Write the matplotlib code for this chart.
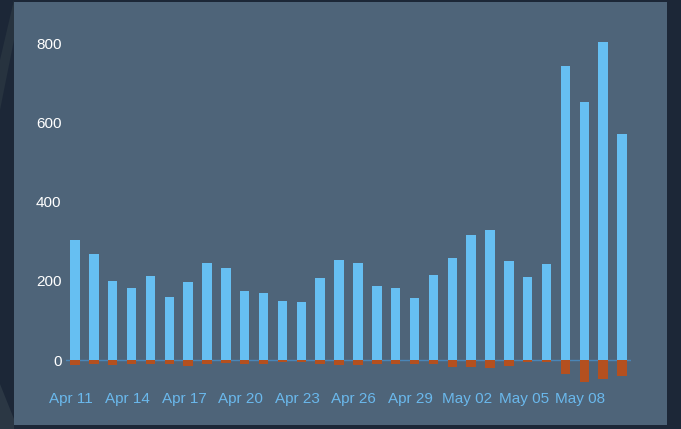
import matplotlib.pyplot as plt
import matplotlib.transforms as mtransforms
from matplotlib.patches import Rectangle, Polygon

# daily counts, Apr 11 .. May 10
dates = ["Apr 11", "Apr 12", "Apr 13", "Apr 14", "Apr 15", "Apr 16", "Apr 17", "Apr 18",
         "Apr 19", "Apr 20", "Apr 21", "Apr 22", "Apr 23", "Apr 24", "Apr 25", "Apr 26",
         "Apr 27", "Apr 28", "Apr 29", "Apr 30", "May 01", "May 02", "May 03", "May 04",
         "May 05", "May 06", "May 07", "May 08", "May 09", "May 10"]
positive = [304, 268, 200, 182, 211, 159, 197, 245, 233, 175, 169, 150, 147, 208, 252,
            246, 187, 182, 157, 215, 258, 316, 329, 251, 210, 242, 742, 651, 802, 570]
negative = [-13, -11, -12, -9, -9, -9, -15, -11, -7, -9, -9, -6, -6, -10, -13,
            -12, -9, -10, -9, -9, -17, -18, -20, -15, -5, -6, -35, -55, -48, -40]
yticks = [0, 200, 400, 600, 800]

OUTER = "#1c2737"
PANEL = "#4e6479"
BLUE = "#66bff2"
RED = "#b4501f"

W, H = 681, 429
fig = plt.figure(figsize=(W / 100, H / 100), dpi=100, facecolor=OUTER)

# decoration in the dark margin
fig.patches.append(Polygon([(0, 1 - 60 / H), (14 / W, 1.0), (14 / W, 1 - 40 / H), (0, 1 - 110 / H)],
                           closed=True, transform=fig.transFigure, facecolor="#27333f",
                           edgecolor="none", zorder=0))
fig.patches.append(Polygon([(0, 45 / H), (14 / W, 10 / H), (14 / W, 0), (0, 0)],
                           closed=True, transform=fig.transFigure, facecolor="#2b3744",
                           edgecolor="none", zorder=0))
# panel
fig.patches.append(Rectangle((14 / W, 1 - 425 / H), (667 - 14) / W, (425 - 2) / H,
                             transform=fig.transFigure, facecolor=PANEL,
                             edgecolor="none", zorder=0))

left, right = 65.6, 631.4
ymin, ymax = -70, 850
zero_y, scale = 360.0, 0.396
top_px = zero_y - ymax * scale
bot_px = zero_y - ymin * scale
ax = fig.add_axes([left / W, 1 - bot_px / H, (right - left) / W, (bot_px - top_px) / H])
ax.set_facecolor("none")
ax.set_zorder(2)

x = list(range(len(dates)))
ax.bar(x, positive, width=0.5, color=BLUE, zorder=2)
ax.bar(x, negative, width=0.5, color=RED, zorder=2)
ax.axhline(0, color="#4a86b8", lw=1.0, zorder=1)

ax.set_xlim(-0.5, len(dates) - 0.5)
ax.set_ylim(ymin, ymax)
ax.set_yticks(yticks)
ax.set_yticklabels([str(v) for v in yticks])
ax.set_xticks(x[::3])
ax.set_xticklabels(dates[::3])

ax.tick_params(axis="y", length=0, pad=3, labelcolor="white", labelsize=11)
ax.tick_params(axis="x", length=0, pad=3, labelcolor="#6ab8ec", labelsize=11)
for lab in ax.get_yticklabels() + ax.get_xticklabels():
    lab.set_fontfamily("Liberation Sans")
offset = mtransforms.ScaledTranslation(-4 / 100, 0, fig.dpi_scale_trans)
for lab in ax.get_xticklabels():
    lab.set_transform(lab.get_transform() + offset)

for side in ax.spines.values():
    side.set_visible(False)

fig.savefig("out.png", dpi=100, facecolor=OUTER)
